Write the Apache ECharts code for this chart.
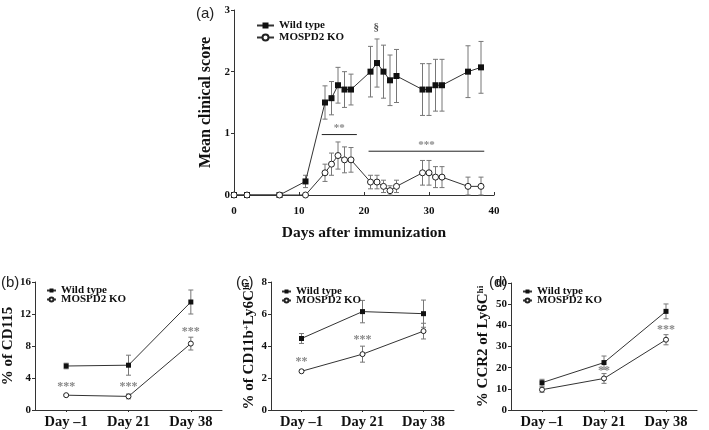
<!DOCTYPE html>
<html>
<head>
<meta charset="utf-8">
<script src="https://cdn.jsdelivr.net/npm/echarts@6/dist/echarts.min.js"></script>
<style>
html,body{margin:0;padding:0;background:#fff;}
#chart{width:709px;height:430px;}
</style>
</head>
<body>
<div id="chart"></div>
<script>
// ---------- DATA ----------
// Panel (a)
const daysA = [0, 2, 7, 11, 14, 15, 16, 17, 18, 21, 22, 23, 24, 25, 29, 30, 31, 32, 36, 38];
const wtA   = [0, 0, 0, 0.22, 1.50, 1.57, 1.78, 1.71, 1.71, 2.00, 2.14, 2.00, 1.86, 1.93, 1.71, 1.71, 1.78, 1.78, 2.00, 2.07];
const wtErrA = [0, 0, 0, 0.10, 0.27, 0.27, 0.29, 0.29, 0.25, 0.41, 0.39, 0.43, 0.41, 0.43, 0.42, 0.42, 0.42, 0.42, 0.42, 0.42];
const koA   = [0, 0, 0, 0, 0.36, 0.50, 0.64, 0.57, 0.57, 0.21, 0.21, 0.14, 0.07, 0.14, 0.36, 0.36, 0.29, 0.29, 0.14, 0.14];
const koErrA = [0, 0, 0, 0, 0.14, 0.18, 0.22, 0.21, 0.20, 0.11, 0.11, 0.10, 0.08, 0.10, 0.20, 0.20, 0.17, 0.17, 0.15, 0.15];
const sigBarsA = [[13.5, 18.9, 0.98, '**'], [20.7, 38.5, 0.71, '***']];
const sigMarksA = [[21.9, 2.72, '§']];

// Panels (b)-(d)
const dayLabels = ['Day \u20131', 'Day 21', 'Day 38'];
const wtB = [5.5, 5.6, 13.5];    const wtErrB = [0.35, 1.25, 1.5];
const koB = [1.85, 1.7, 8.3];    const koErrB = [0.1, 0.3, 0.8];
const starsB = [[0, 2.9, '***'], [1, 2.9, '***'], [2, 9.8, '***']];

const wtC = [4.47, 6.15, 6.02];  const wtErrC = [0.31, 0.7, 0.85];
const koC = [2.42, 3.49, 4.93];  const koErrC = [0.08, 0.5, 0.49];
const starsC = [[0, 3.0, '**'], [1, 4.4, '***']];

const wtD = [12.9, 22.4, 46.6];  const wtErrD = [1.6, 3.1, 3.5];
const koD = [9.6, 14.9, 33.2];   const koErrD = [1.2, 2.3, 2.4];
const starsD = [[1, 18.5, '**'], [2, 37.7, '***']];

const seriesNames = ['Wild type', 'MOSPD2 KO'];
const panelLabels = ['(a)', '(b)', '(c)', '(d)'];

// ---------- STYLE HELPERS ----------
const SERIF = 'Liberation Serif, Times New Roman, serif';
const SANS = 'Liberation Sans, Arial, sans-serif';
const axisCol = '#333';
const lineCol = '#333';
const errCol = '#777';
const starCol = '#888';
const textStore = {};

function errRender(cap) {
  return function (params, api) {
    const x = api.value(0), lo = api.value(1), hi = api.value(2);
    if (hi === lo) return null;
    const a = api.coord([x, hi]), b = api.coord([x, lo]);
    const st = { stroke: errCol, lineWidth: 1 };
    return { type: 'group', children: [
      { type: 'line', shape: { x1: a[0], y1: a[1], x2: b[0], y2: b[1] }, style: st },
      { type: 'line', shape: { x1: a[0] - cap, y1: a[1], x2: a[0] + cap, y2: a[1] }, style: st },
      { type: 'line', shape: { x1: b[0] - cap, y1: b[1], x2: b[0] + cap, y2: b[1] }, style: st }
    ]};
  };
}
function textRender(size) {
  return function (params, api) {
    const p = api.coord([api.value(0), api.value(1)]);
    return { type: 'text', x: p[0], y: p[1], style: {
      text: textStore[params.seriesId][params.dataIndex],
      fill: starCol, fontSize: size, fontFamily: SERIF, fontWeight: 'bold', align: 'center', verticalAlign: 'middle' } };
  };
}

function errData(xs, m, e) { return xs.map((x, i) => [x, Math.max(0, m[i] - e[i]), m[i] + e[i]]); }
function ptData(xs, m) { return xs.map((x, i) => [x, m[i]]); }

const idx = [0, 1, 2];
const series = [];
function addPanel(k, xs, wt, wtE, ko, koE, stars, sym, cap, starSize) {
  series.push({ type: 'custom', xAxisIndex: k, yAxisIndex: k, renderItem: errRender(cap), data: errData(xs, wt, wtE), z: 1, silent: true, clip: false });
  series.push({ type: 'custom', xAxisIndex: k, yAxisIndex: k, renderItem: errRender(cap), data: errData(xs, ko, koE), z: 1, silent: true, clip: false });
  series.push({ name: seriesNames[0], type: 'line', xAxisIndex: k, yAxisIndex: k, data: ptData(xs, wt),
    symbol: 'rect', symbolSize: sym, lineStyle: { color: lineCol, width: 1 }, itemStyle: { color: '#111' }, z: 3, animation: false });
  series.push({ name: seriesNames[1], type: 'line', xAxisIndex: k, yAxisIndex: k, data: ptData(xs, ko),
    symbol: 'circle', symbolSize: sym, showAllSymbol: true, lineStyle: { color: lineCol, width: 1 },
    itemStyle: { color: '#fff', borderColor: '#222', borderWidth: 1 }, z: 4, animation: false });
  if (stars) {
    const id = 'stars' + k;
    textStore[id] = stars.map(s => s[2]);
    series.push({ id: id, type: 'custom', xAxisIndex: k, yAxisIndex: k, renderItem: textRender(starSize),
      data: stars.map(s => [s[0], s[1]]), z: 5, silent: true, clip: false });
  }
}
addPanel(0, daysA, wtA, wtErrA, koA, koErrA, null, 6, 2.5, 11);
addPanel(1, idx, wtB, wtErrB, koB, koErrB, starsB, 5, 2.5, 12);
addPanel(2, idx, wtC, wtErrC, koC, koErrC, starsC, 5, 2.5, 12);
addPanel(3, idx, wtD, wtErrD, koD, koErrD, starsD, 5, 2.5, 12);

// significance bars in (a)
textStore['sigA'] = sigBarsA.map(s => s[3]);
series.push({ id: 'sigA', type: 'custom', xAxisIndex: 0, yAxisIndex: 0, clip: false, silent: true, z: 5,
  data: sigBarsA.map(s => [s[0], s[1], s[2]]),
  renderItem: function (params, api) {
    const p1 = api.coord([api.value(0), api.value(2)]);
    const p2 = api.coord([api.value(1), api.value(2)]);
    return { type: 'group', children: [
      { type: 'line', shape: { x1: p1[0], y1: p1[1], x2: p2[0], y2: p2[1] }, style: { stroke: '#222', lineWidth: 1 } },
      { type: 'text', x: (p1[0] + p2[0]) / 2, y: p1[1] - 1, style: { text: textStore['sigA'][params.dataIndex],
        fill: starCol, fontSize: 11, fontFamily: SERIF, fontWeight: 'bold', align: 'center', verticalAlign: 'bottom' } }
    ]};
  }
});
textStore['markA'] = sigMarksA.map(s => s[2]);
series.push({ id: 'markA', type: 'custom', xAxisIndex: 0, yAxisIndex: 0, clip: false, silent: true, z: 5,
  data: sigMarksA.map(s => [s[0], s[1]]), renderItem: function (params, api) {
    const p = api.coord([api.value(0), api.value(1)]);
    return { type: 'text', x: p[0], y: p[1], style: { text: textStore['markA'][params.dataIndex],
      fill: '#555', fontSize: 11, fontFamily: SERIF, fontWeight: 'bold', align: 'center', verticalAlign: 'middle' } };
  }
});

// ---------- AXES ----------
const tickLabel = { fontFamily: SERIF, fontWeight: 'bold', fontSize: 11, color: '#111' };
function yAxis(k, max, interval, name, nameGap, nameSize, rich) {
  return { type: 'value', gridIndex: k, min: 0, max: max, interval: interval, position: 'left',
    axisLine: { show: true, onZero: false, lineStyle: { color: axisCol, width: 1 } },
    axisTick: { show: true, length: 3, lineStyle: { color: axisCol } },
    splitLine: { show: false }, axisLabel: Object.assign({ margin: 4 }, tickLabel),
    name: name, nameLocation: 'middle', nameGap: nameGap,
    nameTextStyle: Object.assign({ fontFamily: SERIF, fontWeight: 'bold', fontSize: nameSize, color: '#111' }, rich ? { rich: rich } : {}) };
}
function xCat(k) {
  return { type: 'category', gridIndex: k, data: dayLabels, boundaryGap: true,
    axisLine: { show: true, onZero: false, lineStyle: { color: axisCol } },
    axisTick: { show: true, length: 2, alignWithLabel: true, lineStyle: { color: axisCol } },
    splitLine: { show: false },
    axisLabel: { margin: 5, fontFamily: SERIF, fontWeight: 'bold', fontSize: 14.5, color: '#111' } };
}

const richC = {
  n: { fontFamily: SERIF, fontWeight: 'bold', fontSize: 15, color: '#111' },
  s: { fontFamily: SERIF, fontWeight: 'bold', fontSize: 9, color: '#111', verticalAlign: 'top' }
};

const option = {
  animation: false,
  backgroundColor: '#fff',
  grid: [
    { left: 234, top: 10, width: 260, height: 185 },
    { left: 35, top: 282, width: 187, height: 128 },
    { left: 271, top: 282, width: 183, height: 128 },
    { left: 511, top: 283, width: 186, height: 127 }
  ],
  xAxis: [
    { type: 'value', gridIndex: 0, min: 0, max: 40, interval: 10,
      axisLine: { show: true, onZero: false, lineStyle: { color: axisCol } },
      axisTick: { show: true, inside: true, length: 3, lineStyle: { color: axisCol } }, splitLine: { show: false },
      axisLabel: Object.assign({ margin: 11 }, tickLabel),
      name: 'Days after immunization', nameLocation: 'middle', nameGap: 30,
      nameTextStyle: { fontFamily: SERIF, fontWeight: 'bold', fontSize: 15.5, color: '#111' } },
    xCat(1), xCat(2), xCat(3)
  ],
  yAxis: [
    yAxis(0, 3, 1, 'Mean clinical score', 20, 16),
    yAxis(1, 16, 4, '% of CD115', 19, 15),
    yAxis(2, 8, 2, '{n|% of CD11b}{s|+}{n|Ly6C}{s|hi}', 14, 15, richC),
    yAxis(3, 60, 10, '{n|% CCR2 of Ly6C}{s|hi}', 20, 15, richC)
  ],
  legend: [
    { data: seriesNames, orient: 'vertical', left: 256, top: 20, itemWidth: 17, itemHeight: 7.5, itemGap: 1,
      textStyle: { fontFamily: SERIF, fontWeight: 'bold', fontSize: 11, color: '#111' }, selectedMode: false, padding: 0 },
    { data: seriesNames, orient: 'vertical', left: 46, top: 285, itemWidth: 9, itemHeight: 5, itemGap: -2,
      textStyle: { fontFamily: SERIF, fontWeight: 'bold', fontSize: 11, color: '#111' }, selectedMode: false, padding: 0 },
    { data: seriesNames, orient: 'vertical', left: 281, top: 286, itemWidth: 9, itemHeight: 5, itemGap: -2,
      textStyle: { fontFamily: SERIF, fontWeight: 'bold', fontSize: 11, color: '#111' }, selectedMode: false, padding: 0 },
    { data: seriesNames, orient: 'vertical', left: 522, top: 286, itemWidth: 9, itemHeight: 5, itemGap: -2,
      textStyle: { fontFamily: SERIF, fontWeight: 'bold', fontSize: 11, color: '#111' }, selectedMode: false, padding: 0 }
  ],
  graphic: [
    { type: 'text', left: 196, top: 6, style: { text: panelLabels[0], font: '15px ' + SANS, fill: '#222' } },
    { type: 'text', left: 1, top: 275, style: { text: panelLabels[1], font: '15px ' + SANS, fill: '#222' } },
    { type: 'text', left: 236, top: 275, style: { text: panelLabels[2], font: '15px ' + SANS, fill: '#222' } },
    { type: 'text', left: 489, top: 275, style: { text: panelLabels[3], font: '15px ' + SANS, fill: '#222' } }
  ],
  series: series
};

const chart = echarts.init(document.getElementById('chart'), null, { renderer: 'canvas' });
chart.setOption(option);
</script>
</body>
</html>
